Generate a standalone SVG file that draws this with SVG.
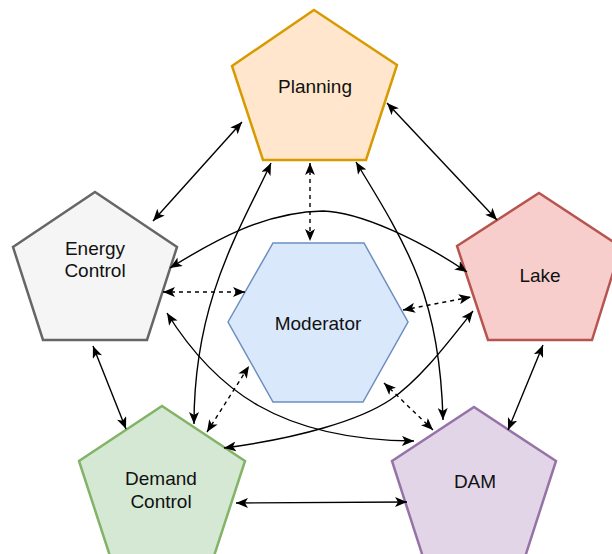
<svg xmlns="http://www.w3.org/2000/svg" width="612" height="554" viewBox="0 0 612 554">
<defs>
<marker id="arr" viewBox="0 0 12 10" refX="12" refY="5" markerWidth="12" markerHeight="10" markerUnits="userSpaceOnUse" orient="auto-start-reverse">
<path d="M0,0 L12,5 L0,10 L3,5 Z" fill="#000"/>
</marker>
</defs>
<style>
.node{stroke-width:2.5;stroke-linejoin:miter}
.lbl{font-family:"Liberation Sans",Arial,Helvetica,sans-serif;font-size:19px;fill:#111;text-anchor:middle}
.c{fill:none;stroke:#000;stroke-width:1.4;marker-start:url(#arr);marker-end:url(#arr)}
.d{stroke-dasharray:4 4}
</style>
<rect width="612" height="554" fill="#fff"/>
<g id="planning">
<polygon class="node" points="314,10 397,65 366,160 263,160 232,66" fill="#ffe6cc" stroke="#d79b00"/>
<text class="lbl" x="315" y="93">Planning</text>
</g>
<g id="energy-control">
<polygon class="node" points="95,192 177,247 147,340 43,340 13,247" fill="#f5f5f5" stroke="#666666"/>
<text class="lbl" x="95" y="255">Energy</text>
<text class="lbl" x="95" y="277">Control</text>
</g>
<g id="lake">
<polygon class="node" points="539,193 621,247 592,340 488,340 457,246" fill="#f8cecc" stroke="#b85450"/>
<text class="lbl" x="540" y="282">Lake</text>
</g>
<g id="demand-control">
<polygon class="node" points="162,406 245,461 214,556 110,556 79,461" fill="#d5e8d4" stroke="#82b366"/>
<text class="lbl" x="161" y="485">Demand</text>
<text class="lbl" x="161" y="508">Control</text>
</g>
<g id="dam">
<polygon class="node" points="474,407 556,461 525,557 423,557 392,461" fill="#e1d5e7" stroke="#9673a6"/>
<text class="lbl" x="475" y="488">DAM</text>
</g>
<g id="moderator">
<polygon points="228,322 273,243 364,243 408,322 363,402 273,402" fill="#dae8fc" stroke="#6c8ebf" stroke-width="1.5"/>
<text class="lbl" x="318" y="330">Moderator</text>
</g>
<g id="connectors">
<path class="c" d="M242,122 L153,221"/>
<path class="c" d="M387,103 L497,220"/>
<path class="c d" d="M310,163 L310,241"/>
<path class="c" d="M271,163 C240,230 194,300 194,424"/>
<path class="c" d="M356,162 C410,250 440,300 443,420"/>
<path class="c" d="M170,268 C215,240 265,212 323,211 C360,212 420,240 467,272"/>
<path class="c d" d="M163,292 L245,292"/>
<path class="c" d="M93,346 L126,429"/>
<path class="c" d="M167,313 C215,390 280,440 414,441"/>
<path class="c d" d="M207,432 L249,366"/>
<path class="c" d="M224,448 C300,438 360,420 390,400 C420,380 450,340 473,311"/>
<path class="c d" d="M403,310 L471,297"/>
<path class="c d" d="M384,383 L433,430"/>
<path class="c" d="M543,345 L508,430"/>
<path class="c" d="M236,503 L407,502"/>
</g>
</svg>
